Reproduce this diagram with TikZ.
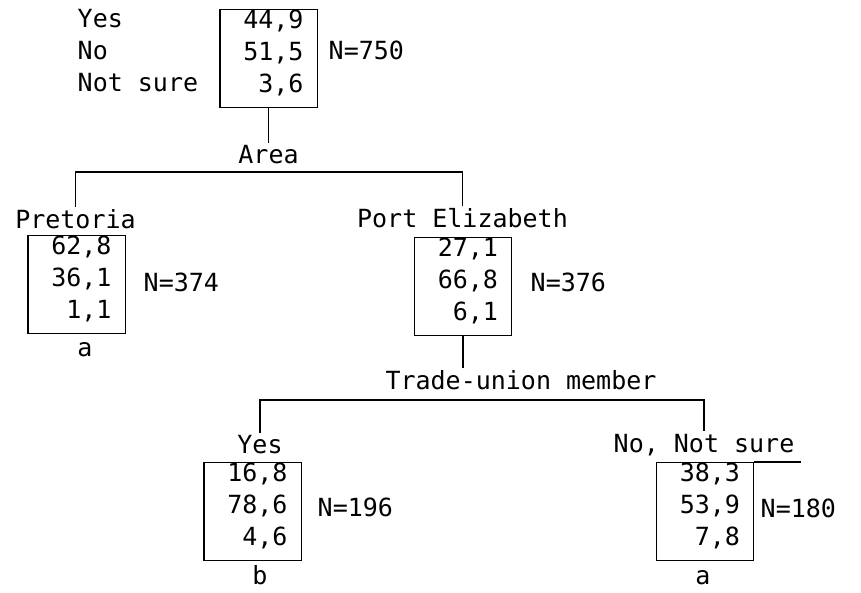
\documentclass[tikz,border=0pt]{standalone}
\usepackage{fontspec}
\setmainfont{DejaVu Sans Mono}
\begin{document}
\begin{tikzpicture}[x=1pt,y=-1pt,font={\fontsize{25}{32}\selectfont},line width=1.4pt,
  valbox/.style={draw,anchor=north,align=right,text width=70pt,inner xsep=13.7pt,inner ysep=0pt,text depth=79pt},
  catlab/.style={inner sep=2pt},
  nlab/.style={anchor=west,inner sep=0pt},
  sigmark/.style={inner sep=0pt}]
\useasboundingbox (0,0) rectangle (861,592);
\node[valbox] (all) at (268.5,9) {44,9\\51,5\\3,6};
\node[anchor=north west,align=left,inner sep=0pt] (answers) at (77,9) {Yes\\No\\Not sure};
\node[nlab] (nall) at (328,50) {N=750};
\node[catlab] (area) at (268.5,155) {Area};
\draw (all.south) -- (area.north);
\coordinate (areasplit) at (268.5,172);
\node[catlab] (pretoria) at (75.5,219) {Pretoria};
\node[catlab] (portel) at (462.5,218) {Port Elizabeth};
\draw (pretoria.north) |- (areasplit) -| (portel.north);
\node[valbox] (pre) at (76.5,235) {62,8\\36,1\\1,1};
\node[nlab] (npre) at (143,282) {N=374};
\node[sigmark] (prea) at (85,350) {a};
\node[valbox] (pe) at (463,237) {27,1\\66,8\\6,1};
\node[nlab] (npe) at (530,282) {N=376};
\node[catlab] (union) at (521,380) {Trade-union member};
\draw (pe.south) -- (pe.south |- union.north);
\coordinate (unionsplit) at (463,400);
\node[catlab] (member) at (260,445) {Yes};
\node[catlab] (nonmember) at (704,445) {No, Not sure};
\draw (member.north) |- (unionsplit) -| (nonmember.north);
\node[valbox] (mem) at (252.5,462) {16,8\\78,6\\4,6};
\node[nlab] (nmem) at (317,507) {N=196};
\node[sigmark] (memb) at (260,575) {b};
\node[valbox] (non) at (705,462) {38,3\\53,9\\7,8};
\draw (non.north east) -- ++(47,0);
\node[nlab] (nnon) at (760,508) {N=180};
\node[sigmark] (nona) at (703,578) {a};
\end{tikzpicture}
\end{document}
